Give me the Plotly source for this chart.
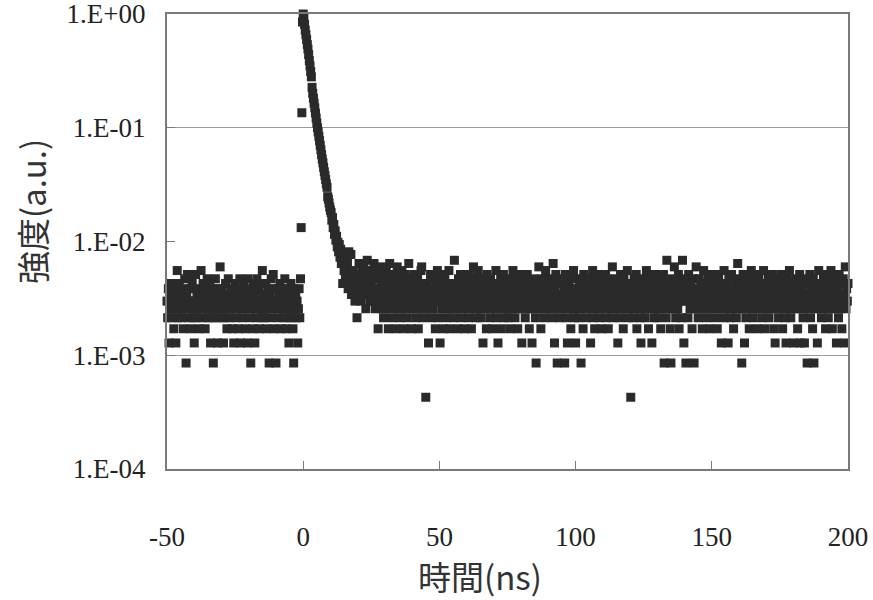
import plotly.graph_objects as go

# ---- data (photon counts per 0.25 ns time bin) ----
time_start_ns = -50.0
time_step_ns = 0.25
peak_counts = 2340  # counts at the peak (normalised to 1.E+00)

counts_pre = [
    7, 5, 9, 3, 6, 8, 10, 5, 6, 7, 4, 9, 6, 3, 8, 13, 5, 7, 10, 6,
    8, 5, 6, 9, 4, 7, 11, 6, 2, 8, 12, 5, 7, 6, 9, 4, 7, 10, 5, 6,
    3, 7, 12, 5, 8, 6, 9, 4, 7, 6, 13, 8, 5, 10, 6, 7, 4, 9, 6, 11,
    5, 8, 6, 10, 3, 7, 5, 9, 2, 6, 8, 11, 5, 7, 3, 9, 6, 8, 14, 5,
    7, 9, 6, 3, 8, 5, 10, 7, 4, 6, 11, 8, 5, 7, 9, 6, 4, 8, 3, 7,
    10, 5, 7, 6, 9, 4, 8, 11, 3, 6, 7, 5, 9, 10, 6, 4, 8, 7, 3, 11,
    6, 8, 5, 2, 9, 7, 4, 10, 6, 3, 8, 5, 11, 7, 6, 9, 4, 7, 10, 5,
    13, 6, 8, 5, 7, 10, 4, 6, 9, 7, 2, 8, 5, 11, 6, 7, 12, 4, 9, 6,
    2, 7, 9, 5, 8, 6, 10, 4, 7, 6, 9, 5, 8, 11, 6, 4, 7, 9, 5, 3,
    8, 6, 10, 5, 7, 4, 2, 9, 6, 8, 5, 7, 3, 6, 9, 5,
]

counts_peak = [
    11, 31, 317, 1990, 2340, 2200, 1900, 1690, 1540, 1400,
    1260, 1150, 1030, 910, 820, 730, 655, 530, 470, 425,
    385, 350, 315, 285, 258, 234, 215, 197, 180, 164,
    150, 136, 124, 115, 105, 96, 89, 82, 75, 70,
    58, 55, 51, 47, 44, 42, 36, 38, 31, 33,
    27, 29, 24, 26, 21, 23, 19, 22, 17, 20,
    15, 18, 10, 16, 13, 17, 12, 14, 11, 15,
    9, 19, 12, 10, 18, 8, 11, 13, 9, 12,
    7, 10, 11, 5,
]

counts_tail_1 = [
    12, 8, 15, 9, 11, 7, 13, 10, 8, 14, 9, 11, 6, 10, 16, 8, 12, 9, 7, 13,
    10, 7, 12, 8, 15, 9, 6, 11, 8, 13, 4, 9, 7, 12, 10, 6, 14, 8, 5, 11,
    9, 6, 13, 7, 10, 4, 8, 15, 6, 9, 11, 5, 8, 12, 7, 10, 4, 9, 14, 6,
    8, 11, 5, 9, 7, 13, 6, 10, 4, 8, 12, 7, 5, 9, 11, 15, 6, 8, 10, 4,
    7, 9, 6, 12, 8, 5, 10, 7, 11, 4, 9, 6, 8, 13, 14, 7, 5, 10, 6, 9,
    1, 8, 10, 6, 3, 9, 7, 12, 5, 8, 11, 6, 9, 7, 4, 10, 8, 13, 5, 7,
    9, 3, 7, 11, 6, 8, 4, 10, 12, 7, 5, 9, 6, 8, 13, 4, 7, 10, 6, 9,
    8, 5, 16, 7, 10, 6, 9, 4, 11, 7, 8, 12, 5, 9, 6, 10, 7, 4, 8, 11,
    6, 9, 7, 5, 12, 8, 10, 4, 7, 9, 14, 6, 8, 11, 5, 7, 9, 13, 6, 10,
    7, 5, 11, 8, 3, 9, 6, 10, 7, 4, 12, 8, 6, 9, 5, 11, 7, 8, 4, 10,
    8, 6, 9, 13, 5, 7, 3, 10, 8, 6, 11, 4, 9, 7, 12, 5, 8, 10, 6, 7,
    9, 5, 11, 7, 4, 8, 10, 6, 13, 7, 9, 5, 8, 11, 6, 4, 10, 7, 9, 12,
]

counts_tail_2 = [
    8, 3, 9, 6, 11, 7, 5, 10, 8, 12, 6, 9, 4, 7, 10, 8, 3, 6, 11, 9,
    7, 5, 2, 10, 8, 6, 14, 9, 7, 4, 11, 8, 6, 10, 5, 9, 13, 7, 8, 6,
    9, 7, 11, 6, 8, 10, 5, 15, 7, 3, 9, 12, 6, 2, 8, 10, 7, 5, 11, 8,
    6, 10, 7, 9, 2, 12, 8, 5, 3, 7, 10, 6, 9, 4, 11, 8, 6, 13, 7, 5,
    3, 9, 7, 11, 5, 8, 10, 6, 2, 9, 7, 4, 12, 8, 6, 10, 5, 9, 7, 11,
    8, 6, 3, 10, 7, 13, 5, 9, 4, 8, 11, 6, 7, 10, 9, 5, 12, 8, 4, 7,
    10, 6, 9, 7, 12, 5, 8, 11, 4, 7, 9, 6, 10, 8, 14, 5, 7, 9, 6, 11,
    7, 9, 3, 8, 10, 5, 12, 7, 6, 9, 4, 11, 8, 6, 10, 7, 13, 5, 9, 8,
    6, 1, 10, 7, 9, 5, 11, 8, 6, 12, 4, 9, 7, 10, 8, 5, 3, 9, 11, 6,
    8, 10, 5, 7, 13, 6, 9, 4, 8, 11, 7, 6, 3, 10, 8, 5, 12, 7, 9, 6,
    9, 5, 11, 7, 8, 4, 10, 6, 9, 12, 2, 7, 8, 5, 16, 9, 6, 10, 7, 4,
    2, 8, 11, 6, 9, 14, 7, 5, 10, 8, 6, 12, 4, 9, 7, 11, 5, 16, 10, 3,
]

counts_tail_3 = [
    8, 10, 2, 7, 9, 5, 12, 8, 6, 10, 7, 4, 9, 11, 2, 8, 6, 14, 7, 9,
    5, 11, 8, 6, 10, 7, 4, 9, 13, 6, 8, 10, 5, 7, 12, 9, 6, 4, 8, 11,
    7, 9, 6, 10, 5, 8, 12, 7, 4, 9, 11, 6, 8, 10, 3, 7, 9, 5, 13, 8,
    6, 10, 7, 9, 3, 11, 8, 5, 7, 12, 6, 9, 4, 8, 10, 7, 5, 11, 15, 6,
    9, 7, 10, 6, 2, 8, 12, 7, 3, 9, 5, 11, 8, 6, 10, 4, 7, 9, 13, 6,
    8, 5, 10, 7, 11, 6, 9, 4, 8, 12, 7, 6, 10, 8, 5, 9, 13, 7, 4, 10,
    6, 9, 7, 11, 5, 8, 10, 6, 12, 7, 9, 4, 8, 3, 10, 6, 11, 8, 5, 9,
    7, 12, 6, 9, 4, 8, 10, 7, 5, 3, 11, 8, 6, 9, 13, 7, 5, 10, 8, 6,
    3, 9, 7, 11, 6, 8, 4, 10, 7, 12, 3, 8, 6, 9, 5, 11, 3, 7, 10, 8,
    2, 10, 6, 8, 12, 5, 9, 7, 4, 11, 2, 8, 6, 10, 7, 3, 9, 13, 6, 8,
    10, 5, 7, 9, 11, 6, 8, 4, 12, 7, 9, 5, 10, 8, 6, 13, 7, 4, 9, 11,
    6, 8, 10, 3, 7, 9, 5, 12, 8, 6, 10, 4, 7, 11, 8, 3, 14, 6, 9, 7, 10,
]

x_tick_values = [-50, 0, 50, 100, 150, 200]
x_tick_labels = ["-50", "0", "50", "100", "150", "200"]
y_tick_values = [1e-4, 1e-3, 1e-2, 1e-1, 1]
y_tick_labels = ["1.E-04", "1.E-03", "1.E-02", "1.E-01", "1.E+00"]
grid_values = [1e-3, 1e-1]

x_title = "時間(ns)"
y_title = "強度(a.u.)"

# ---- build series ----
counts = counts_pre + counts_peak + counts_tail_1 + counts_tail_2 + counts_tail_3
time_ns = [time_start_ns + k * time_step_ns for k in range(len(counts))]
intensity = [c / peak_counts for c in counts]

tick_font = dict(family="Liberation Serif, Times New Roman, serif", size=27, color="#222222")
title_font = dict(family="Noto Sans CJK JP, sans-serif", size=33, color="#333333")
frame_color = "#7a7a7a"

fig = go.Figure()
fig.add_trace(go.Scatter(
    x=time_ns, y=intensity, mode="markers",
    marker=dict(symbol="square", size=9, color="#2a2a2a", line=dict(width=0)),
    cliponaxis=False, showlegend=False, hoverinfo="x+y",
))
# empty trace carrying the grid-only axis
fig.add_trace(go.Scatter(x=[], y=[], yaxis="y2", showlegend=False))

fig.update_layout(
    width=873, height=600,
    margin=dict(l=167, r=25, t=14, b=131, autoexpand=False),
    paper_bgcolor="white", plot_bgcolor="white",
    xaxis=dict(
        range=[-50, 200], tickmode="array", tickvals=x_tick_values,
        ticktext=x_tick_labels,
        ticks="inside", ticklen=8, tickwidth=1, tickcolor=frame_color,
        showline=True, linecolor=frame_color, linewidth=2, mirror=True,
        showgrid=False, zeroline=False, tickfont=tick_font,
        ticklabelstandoff=43, automargin=False, ticklabeloverflow="allow",
    ),
    yaxis=dict(
        type="log", range=[-4, 0], tickmode="array",
        tickvals=y_tick_values, ticktext=y_tick_labels,
        ticks="inside", ticklen=8, tickwidth=1, tickcolor=frame_color,
        showline=True, linecolor=frame_color, linewidth=2, mirror=True,
        showgrid=False, zeroline=False, tickfont=tick_font,
        ticklabelstandoff=14, automargin=False, ticklabeloverflow="allow",
    ),
    yaxis2=dict(
        type="log", range=[-4, 0], overlaying="y", side="left",
        tickmode="array", tickvals=grid_values,
        showgrid=True, gridcolor="#9a9a9a", gridwidth=1,
        showticklabels=False, ticks="", showline=False, zeroline=False,
        automargin=False,
    ),
    annotations=[
        dict(text=x_title, xref="paper", yref="paper", x=0.46, y=-0.236,
             xanchor="center", yanchor="middle", showarrow=False, font=title_font),
        dict(text=y_title, xref="paper", yref="paper", x=-0.198, y=0.565,
             xanchor="center", yanchor="middle", showarrow=False, textangle=-90,
             font=title_font),
    ],
)

# remove the browser's default 8 px body margin so the figure fills the window
fig.write_html("out.html", config={"displayModeBar": False},
               post_script="document.body.style.margin='0';")
